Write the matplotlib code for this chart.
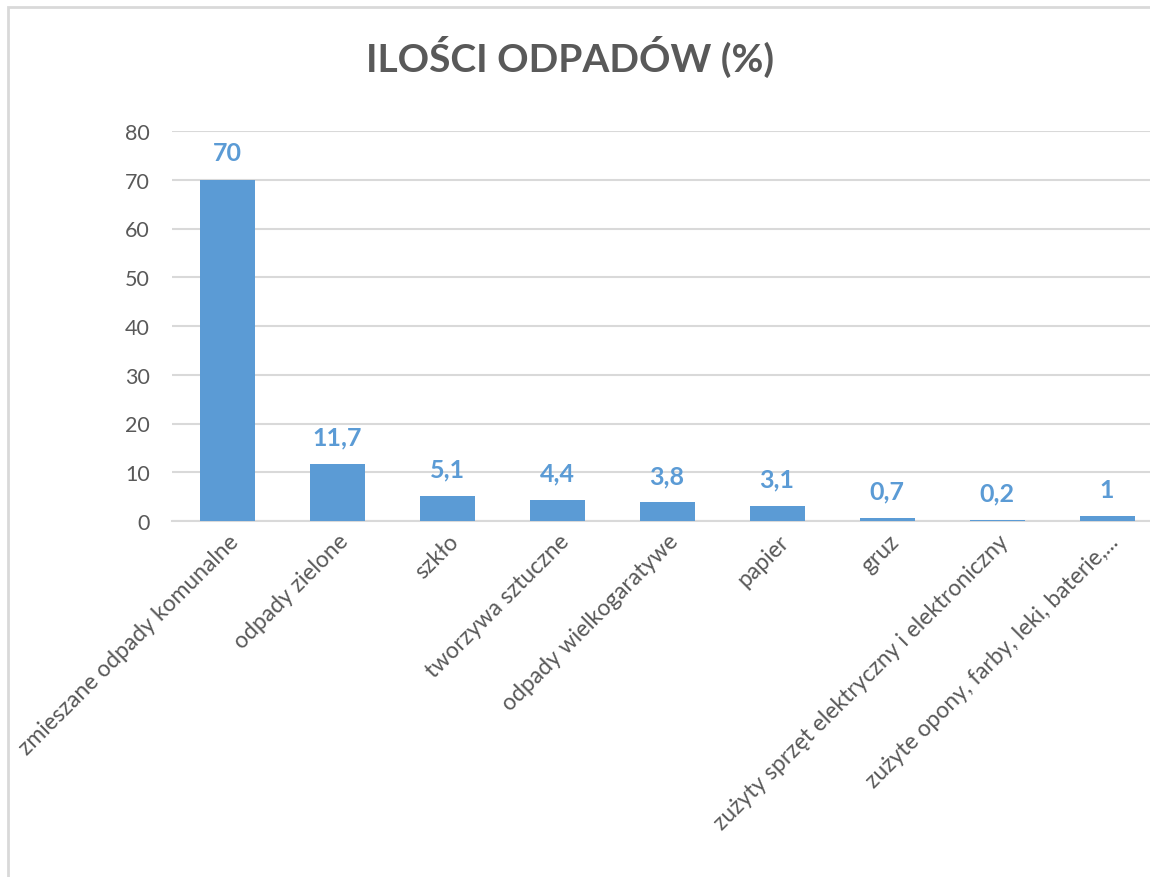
import matplotlib
matplotlib.use("Agg")
import matplotlib.pyplot as plt
from matplotlib.patches import Rectangle
from matplotlib.transforms import ScaledTranslation

categories = [
    "zmieszane odpady komunalne",
    "odpady zielone",
    "szkło",
    "tworzywa sztuczne",
    "odpady wielkogaratywe",
    "papier",
    "gruz",
    "zużyty sprzęt elektryczny i elektroniczny",
    "zużyte opony, farby, leki, baterie,...",
]
values = [70, 11.7, 5.1, 4.4, 3.8, 3.1, 0.7, 0.2, 1]
value_labels = ["70", "11,7", "5,1", "4,4", "3,8", "3,1", "0,7", "0,2", "1"]

plt.rcParams['font.family'] = ['Lato', 'DejaVu Sans']

bar_color = '#5B9BD5'
text_gray = '#595959'
grid_gray = '#D9D9D9'

fig = plt.figure(figsize=(11.5, 8.78), dpi=100)
ax = fig.add_axes([172/1150, 1 - 522/878, 990/1150, 390/878])

x = list(range(len(categories)))
ax.bar(x, values, width=0.5, color=bar_color, zorder=3)

for xi, v, lab in zip(x, values, value_labels):
    ax.annotate(lab, (xi, v), xytext=(0, 11), textcoords='offset points',
                ha='center', va='bottom', fontsize=18, fontweight='bold',
                color=bar_color)

ax.set_xlim(-0.5, len(categories) - 0.5)
ax.set_ylim(0, 80)
ax.set_yticks(range(0, 81, 10))
ax.yaxis.grid(True, color=grid_gray, linewidth=1.5, zorder=0)
ax.set_axisbelow(True)
for s in ['top', 'right', 'left']:
    ax.spines[s].set_visible(False)
ax.spines['bottom'].set_color(grid_gray)
ax.spines['bottom'].set_linewidth(1.5)
ax.tick_params(axis='both', length=0, labelsize=15.5, labelcolor=text_gray)
ax.tick_params(axis='y', pad=16)
ax.set_xticks(x)
ax.set_xticklabels(categories, rotation=45, ha='right', va='center',
                   rotation_mode='anchor', fontsize=16.5)
ax.tick_params(axis='x', pad=12)
# lekkie przesuniecie etykiet w prawo
shift = ScaledTranslation(6/72, 0, fig.dpi_scale_trans)
for t in ax.get_xticklabels():
    t.set_transform(t.get_transform() + shift)

fig.text(0.496, 1 - 57/878, "ILOŚCI ODPADÓW (%)", ha='center', va='center',
         fontsize=28, fontweight='bold', color=text_gray)

# ramka wykresu
fig.add_artist(Rectangle((8/1150, -0.05), 1.1, 1 - 8/878 + 0.05,
                         transform=fig.transFigure, fill=False,
                         edgecolor=grid_gray, linewidth=2))

fig.savefig("out.png", dpi=100)
